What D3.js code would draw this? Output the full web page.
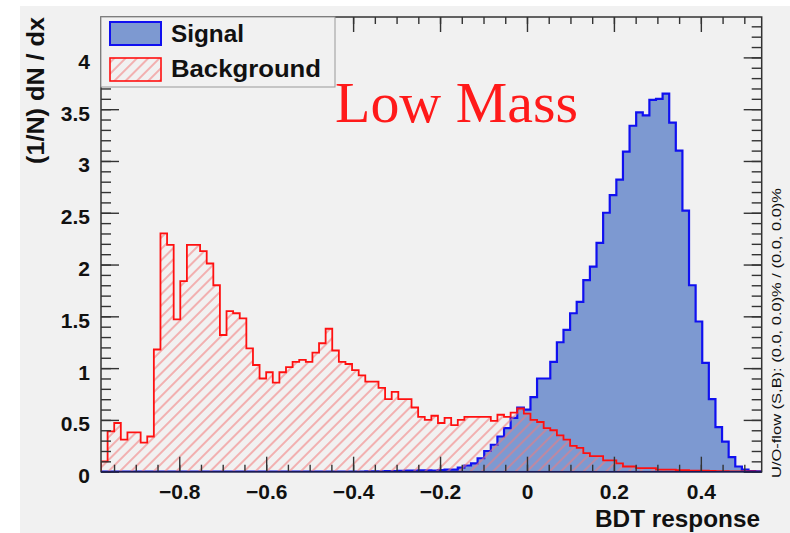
<!DOCTYPE html>
<html>
<head>
<meta charset="utf-8">
<script src="https://cdn.jsdelivr.net/npm/d3@7"></script>
<style>
html,body{margin:0;padding:0;background:#fff;}
svg{display:block;}
</style>
</head>
<body>
<svg id="chart" width="790" height="533"></svg>
<script>
// ---------------- data ----------------
const histLow = -0.98;
const histHigh = 0.54;
const nBins = 100;

const backgroundValues = [
  0.10,0.39,0.47,0.31,0.38,0.38,0.28,0.34,1.18,2.30,
  2.19,1.47,1.84,2.19,2.19,2.13,2.01,1.80,1.32,1.55,
  1.53,1.48,1.19,1.03,0.90,0.96,0.86,0.96,1.01,1.06,
  1.08,1.06,1.15,1.24,1.38,1.17,1.06,1.04,0.98,0.93,
  0.87,0.87,0.81,0.70,0.77,0.70,0.70,0.62,0.53,0.50,
  0.54,0.47,0.52,0.45,0.50,0.53,0.53,0.53,0.53,0.49,
  0.55,0.53,0.57,0.61,0.56,0.50,0.48,0.42,0.40,0.35,
  0.31,0.25,0.23,0.18,0.15,0.15,0.11,0.11,0.08,0.05,
  0.05,0.035,0.035,0.035,0.02,0.02,0.02,0.015,0.015,0.01,
  0.01,0.01,0.008,0.006,0.005,0.004,0.003,0.002,0.002,0.001
];

const signalValues = [
  0,0,0,0,0,0,0,0,0,0,
  0,0,0,0,0,0,0,0,0,0,
  0,0,0,0,0,0,0,0,0,0,
  0,0,0,0,0,0,0,0,0.002,0.002,
  0.003,0.003,0.004,0.005,0.006,0.008,0.01,0.01,0.012,0.012,
  0.01,0.015,0.02,0.02,0.04,0.06,0.08,0.13,0.20,0.26,
  0.34,0.42,0.52,0.62,0.60,0.72,0.90,0.90,1.06,1.25,
  1.37,1.53,1.64,1.85,1.98,2.21,2.50,2.67,2.82,3.09,
  3.34,3.47,3.44,3.59,3.60,3.65,3.37,3.10,2.52,1.80,
  1.45,1.05,0.70,0.43,0.29,0.14,0.05,0.02,0.005,0.003
];

const xMajorTicks = [-0.8,-0.6,-0.4,-0.2,0,0.2,0.4];
const xMinorTicks = d3.range(-0.95, 0.54, 0.05).map(d => +d.toFixed(2));
const yMajorTicks = [0,0.5,1,1.5,2,2.5,3,3.5,4];
const yMinorTicks = d3.range(0, 4.39, 0.1).map(d => +d.toFixed(1));
const yMax = 4.39;

const legendLabels = ["Signal", "Background"];
const titleText = "Low Mass";
const xTitle = "BDT response";
const yTitle = "(1/N) dN / dx";
const overflowText = "U/O-flow (S,B): (0.0, 0.0)% / (0.0, 0.0)%";

// ---------------- layout ----------------
const frame = {left: 101, right: 761.7, top: 17, bottom: 471.7};
const svg = d3.select("#chart");

svg.append("rect").attr("x", 20).attr("y", 6).attr("width", 770).attr("height", 527).attr("fill", "#f1f1f1");

const defs = svg.append("defs");
const pat = defs.append("pattern").attr("id", "hatch")
  .attr("patternUnits", "userSpaceOnUse").attr("width", 8).attr("height", 8)
  .attr("patternTransform", "rotate(45)");
pat.append("line").attr("x1", 2).attr("y1", -1).attr("x2", 2).attr("y2", 9)
  .attr("stroke", "#f27a7a").attr("stroke-width", 1.1);
defs.append("clipPath").attr("id", "clip").append("rect")
  .attr("x", frame.left).attr("y", frame.top)
  .attr("width", frame.right - frame.left).attr("height", frame.bottom - frame.top);

const x = d3.scaleLinear().domain([histLow, histHigh]).range([frame.left, frame.right]);
const y = d3.scaleLinear().domain([0, yMax]).range([frame.bottom, frame.top]);

const binW = (histHigh - histLow) / nBins;
function pts(vals) {
  const p = vals.map((v, i) => [histLow + i * binW, v]);
  p.push([histHigh, vals[vals.length - 1]]);
  return p;
}
const area = d3.area().curve(d3.curveStepAfter).x(d => x(d[0])).y0(y(0)).y1(d => y(d[1]));
const stepLine = d3.line().curve(d3.curveStepAfter).x(d => x(d[0])).y(d => y(d[1]));
function outlinePath(vals) {
  return "M" + x(histLow) + "," + y(0) + "L" + stepLine(pts(vals)).slice(1) + "L" + x(histHigh) + "," + y(0);
}

const plot = svg.append("g").attr("clip-path", "url(#clip)");

// signal
plot.append("path").attr("d", area(pts(signalValues))).attr("fill", "#7d99d1");
plot.append("path").attr("d", outlinePath(signalValues)).attr("fill", "none")
  .attr("stroke", "#1010f0").attr("stroke-width", 2.2).attr("stroke-linejoin", "miter");
// background
plot.append("path").attr("d", area(pts(backgroundValues))).attr("fill", "url(#hatch)");
plot.append("path").attr("d", outlinePath(backgroundValues)).attr("fill", "none")
  .attr("stroke", "#ff1010").attr("stroke-width", 1.8).attr("stroke-linejoin", "miter");

// ---------------- axes ----------------
function styleAxis(g) {
  g.select(".domain").remove();
  g.selectAll(".tick line").attr("stroke", "#333").attr("stroke-width", 1.4);
}
const tickFont = "'Liberation Sans', Arial, Helvetica, sans-serif";

// bottom
svg.append("g").attr("transform", `translate(0,${frame.bottom})`)
  .call(d3.axisBottom(x).tickValues(xMinorTicks).tickSize(-7).tickFormat(""))
  .call(styleAxis);
const xb = svg.append("g").attr("transform", `translate(0,${frame.bottom})`)
  .call(d3.axisBottom(x).tickValues(xMajorTicks).tickSize(-15).tickPadding(12)
    .tickFormat(d => d === 0 ? "0" : d3.format(".1f")(d)))
  .call(styleAxis);
xb.selectAll(".tick text").attr("font-family", tickFont).attr("font-weight", "bold")
  .attr("font-size", 21).attr("fill", "#111");
// top
svg.append("g").attr("transform", `translate(0,${frame.top})`)
  .call(d3.axisTop(x).tickValues(xMinorTicks).tickSize(-7).tickFormat(""))
  .call(styleAxis);
svg.append("g").attr("transform", `translate(0,${frame.top})`)
  .call(d3.axisTop(x).tickValues(xMajorTicks).tickSize(-15).tickFormat(""))
  .call(styleAxis);
// left
svg.append("g").attr("transform", `translate(${frame.left},0)`)
  .call(d3.axisLeft(y).tickValues(yMinorTicks).tickSize(-10).tickFormat(""))
  .call(styleAxis);
const yl = svg.append("g").attr("transform", `translate(${frame.left},0)`)
  .call(d3.axisLeft(y).tickValues(yMajorTicks).tickSize(-18).tickPadding(11)
    .tickFormat(d => String(d)))
  .call(styleAxis);
yl.selectAll(".tick text").attr("font-family", tickFont).attr("font-weight", "bold")
  .attr("font-size", 21).attr("fill", "#111").attr("dy", "0.52em");
// right
svg.append("g").attr("transform", `translate(${frame.right},0)`)
  .call(d3.axisRight(y).tickValues(yMinorTicks).tickSize(-10).tickFormat(""))
  .call(styleAxis);
svg.append("g").attr("transform", `translate(${frame.right},0)`)
  .call(d3.axisRight(y).tickValues(yMajorTicks).tickSize(-18).tickFormat(""))
  .call(styleAxis);

// frame
svg.append("rect").attr("x", frame.left).attr("y", frame.top)
  .attr("width", frame.right - frame.left).attr("height", frame.bottom - frame.top)
  .attr("fill", "none").attr("stroke", "#333").attr("stroke-width", 1.5);
svg.append("line").attr("x1", frame.left).attr("x2", frame.right)
  .attr("y1", frame.bottom).attr("y2", frame.bottom)
  .attr("stroke", "#1a1a5a").attr("stroke-width", 1.6);

// ---------------- legend ----------------
const lg = svg.append("g");
lg.append("rect").attr("x", frame.left).attr("y", frame.top).attr("width", 234).attr("height", 70)
  .attr("fill", "#f1f1f1").attr("stroke", "#999").attr("stroke-width", 1);
lg.append("rect").attr("x", 110).attr("y", 22).attr("width", 51).attr("height", 23)
  .attr("fill", "#7d99d1").attr("stroke", "#1010f0").attr("stroke-width", 2);
lg.append("rect").attr("x", 110).attr("y", 58).attr("width", 51).attr("height", 23)
  .attr("fill", "url(#hatch)").attr("stroke", "#ff1010").attr("stroke-width", 1.6);
const legLen = [73, 150];
lg.selectAll("text.leg").data(legendLabels).join("text").attr("class", "leg")
  .attr("x", 171).attr("y", (d, i) => 42 + i * 35)
  .attr("font-family", tickFont).attr("font-weight", "bold").attr("font-size", 24)
  .attr("textLength", (d, i) => legLen[i]).attr("lengthAdjust", "spacingAndGlyphs")
  .attr("fill", "#111").text(d => d);

// ---------------- titles ----------------
svg.append("text").attr("x", 335).attr("y", 122)
  .attr("font-family", "'Liberation Serif', 'Times New Roman', serif")
  .attr("font-size", 56).attr("fill", "#ff1a1a")
  .attr("textLength", 243).attr("lengthAdjust", "spacingAndGlyphs")
  .text(titleText);

svg.append("text").attr("x", 760).attr("y", 527).attr("text-anchor", "end")
  .attr("font-family", tickFont).attr("font-weight", "bold").attr("font-size", 24)
  .attr("textLength", 165).attr("lengthAdjust", "spacingAndGlyphs")
  .attr("fill", "#111").text(xTitle);

svg.append("text").attr("transform", "translate(44,17) rotate(-90)")
  .attr("text-anchor", "end")
  .attr("font-family", tickFont).attr("font-weight", "bold").attr("font-size", 24)
  .attr("textLength", 147).attr("lengthAdjust", "spacingAndGlyphs")
  .attr("fill", "#111").text(yTitle);

svg.append("text").attr("transform", "translate(781,478) rotate(-90)")
  .attr("text-anchor", "start")
  .attr("font-family", tickFont).attr("font-size", 13)
  .attr("textLength", 290).attr("lengthAdjust", "spacingAndGlyphs")
  .attr("fill", "#111").text(overflowText);
</script>
</body>
</html>
